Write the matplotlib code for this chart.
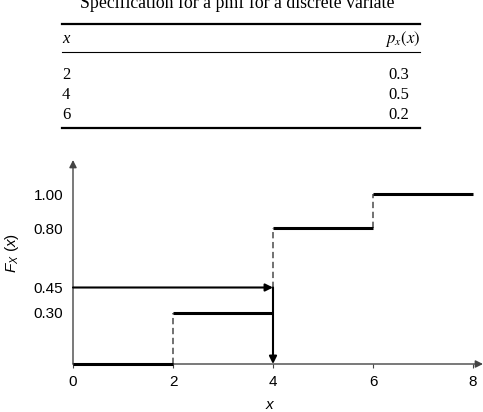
import numpy as np
import matplotlib.pyplot as plt
from matplotlib.lines import Line2D

plt.rcParams['font.family'] = 'Liberation Sans'
plt.rcParams['mathtext.fontset'] = 'custom'
plt.rcParams['mathtext.rm'] = 'Liberation Sans'
plt.rcParams['mathtext.it'] = 'Liberation Sans:italic'

# pmf table
x_vals = [2, 4, 6]
p_vals = [0.3, 0.5, 0.2]
table_title = "Specification for a pmf for a discrete variate"

# cdf plot
x_edges = [0, 2, 4, 6, 8]
cdf_levels = np.concatenate([[0], np.cumsum(p_vals)])
x_ticks = [0, 2, 4, 6, 8]
y_ticks = [0.30, 0.45, 0.80, 1.00]
y_ticklabels = ["0.30", "0.45", "0.80", "1.00"]
query_p = 0.45
query_x = 4

W, H = 483, 412
fig = plt.figure(figsize=(W / 100, H / 100), dpi=100)

def fy(py):
    return 1 - py / H

def fx(px):
    return px / W

# ---- table ----
serif = 'Liberation Serif'
fig.text(fx(237), fy(8), table_title, ha='center', va='baseline',
         family=serif, fontsize=12.8)
for py, lw in [(24, 1.6), (52, 0.8), (128, 1.6)]:
    fig.add_artist(Line2D([fx(62), fx(420)], [fy(py), fy(py)],
                          color='black', lw=lw, transform=fig.transFigure))
fig.text(fx(62), fy(39), "x", ha='left', va='center', family=serif,
         style='italic', fontsize=12)
fig.text(fx(420), fy(39), "$p_x(x)$", ha='right', va='center',
         fontsize=12, math_fontfamily='stix')
for i, (xv, pv) in enumerate(zip(x_vals, p_vals)):
    yy = fy(75 + 20 * i)
    fig.text(fx(62), yy, str(xv), ha='left', va='center', family=serif,
             fontsize=12)
    fig.text(fx(388), yy, f"{pv:.1f}", ha='left', va='center', family=serif,
             fontsize=12)

# ---- cdf plot ----
ax = fig.add_axes([fx(73), 48 / H, 410 / W, 204 / H])
ax.set_xlim(0, 8.2)
ax.set_ylim(0, 1.2)
for s in ax.spines.values():
    s.set_visible(False)

axis_col = '#444444'
ax.annotate('', xy=(1, 0), xytext=(0, 0), xycoords='axes fraction',
            arrowprops=dict(arrowstyle='-|>', color=axis_col, lw=1.0,
                            mutation_scale=11, shrinkA=0, shrinkB=0),
            annotation_clip=False)
ax.annotate('', xy=(0, 1), xytext=(0, 0), xycoords='axes fraction',
            arrowprops=dict(arrowstyle='-|>', color=axis_col, lw=1.0,
                            mutation_scale=11, shrinkA=0, shrinkB=0),
            annotation_clip=False)

# steps
for i in range(len(cdf_levels)):
    ax.plot([x_edges[i], x_edges[i + 1]], [cdf_levels[i]] * 2, color='black',
            lw=2.2, solid_capstyle='butt', zorder=3, clip_on=False)

# dashed jumps
dash_kw = dict(color='#666666', lw=1.3, dashes=(3.5, 2), zorder=2)
ax.plot([x_vals[0]] * 2, [cdf_levels[0], cdf_levels[1]], **dash_kw)
ax.plot([x_vals[1]] * 2, [query_p, cdf_levels[2]], **dash_kw)
ax.plot([x_vals[2]] * 2, [cdf_levels[2], cdf_levels[3]], **dash_kw)

# inverse lookup arrows
arr = dict(arrowstyle='-|>', color='black', lw=1.5, mutation_scale=11,
           shrinkA=0, shrinkB=0)
ax.annotate('', xy=(query_x, query_p), xytext=(0, query_p), arrowprops=arr)
ax.annotate('', xy=(query_x, 0), xytext=(query_x, query_p), arrowprops=arr)

ax.set_xticks(x_ticks)
ax.set_yticks(y_ticks)
ax.set_yticklabels(y_ticklabels)
ax.tick_params(axis='both', color=axis_col, labelsize=11)
ax.tick_params(axis='x', length=3, pad=5)
ax.tick_params(axis='y', length=0, pad=7)

fig.text(fx(12), fy(253), r"$F_X\ (x)$", rotation=90, ha='center',
         va='center', fontsize=11)
fig.text(fx(270), fy(405), "$x$", ha='center', va='center', fontsize=11)

fig.savefig('out.png', dpi=100)
